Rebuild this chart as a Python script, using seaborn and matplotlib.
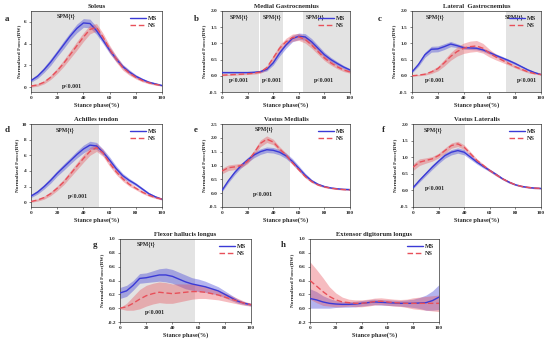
import numpy as np
import pandas as pd
import matplotlib
matplotlib.use("Agg")
import matplotlib.pyplot as plt
import seaborn as sns

sns.set_theme(style="white")
plt.rcParams['font.family'] = ['Liberation Serif', 'DejaVu Serif']

X = [0, 5, 10, 15, 20, 25, 30, 35, 40, 45, 50, 55, 60, 65, 70, 75, 80, 85, 90, 95, 100]

# a Soleus
sol_ms = [0.6, 1.0, 1.6, 2.3, 3.1, 3.9, 4.7, 5.4, 5.9, 5.85, 5.2, 4.3, 3.4, 2.6, 1.9, 1.4, 1.0, 0.7, 0.45, 0.3, 0.15]
sol_ms_sd = [0.15, 0.2, 0.25, 0.3, 0.3, 0.35, 0.35, 0.4, 0.4, 0.4, 0.35, 0.3, 0.3, 0.25, 0.2, 0.2, 0.15, 0.12, 0.1, 0.08, 0.06]
sol_ns = [0.1, 0.2, 0.45, 0.9, 1.5, 2.2, 3.0, 3.8, 4.6, 5.3, 5.5, 4.6, 3.5, 2.6, 1.8, 1.3, 0.9, 0.6, 0.4, 0.25, 0.15]
sol_ns_sd = [0.1, 0.12, 0.15, 0.2, 0.25, 0.3, 0.35, 0.4, 0.4, 0.4, 0.35, 0.35, 0.35, 0.3, 0.25, 0.2, 0.15, 0.12, 0.1, 0.08, 0.06]
# b Medial Gastrocnemius
mg_ms = [0.1, 0.1, 0.1, 0.1, 0.1, 0.11, 0.13, 0.2, 0.4, 0.7, 0.95, 1.15, 1.22, 1.2, 1.05, 0.85, 0.65, 0.5, 0.38, 0.27, 0.18]
mg_ms_sd = [0.02, 0.02, 0.02, 0.02, 0.02, 0.02, 0.03, 0.05, 0.07, 0.09, 0.1, 0.1, 0.1, 0.1, 0.1, 0.09, 0.08, 0.07, 0.06, 0.05, 0.04]
mg_ns = [0.02, 0.03, 0.04, 0.05, 0.06, 0.08, 0.12, 0.25, 0.55, 0.85, 1.05, 1.18, 1.2, 1.12, 0.95, 0.75, 0.55, 0.4, 0.28, 0.18, 0.12]
mg_ns_sd = [0.02, 0.02, 0.02, 0.02, 0.02, 0.03, 0.04, 0.06, 0.08, 0.1, 0.11, 0.11, 0.11, 0.11, 0.1, 0.09, 0.08, 0.07, 0.06, 0.05, 0.04]
# c Lateral Gastrocnemius
lg_ms = [0.12, 0.35, 0.65, 0.82, 0.83, 0.9, 0.98, 0.93, 0.87, 0.86, 0.85, 0.8, 0.72, 0.63, 0.55, 0.47, 0.38, 0.28, 0.18, 0.1, 0.04]
lg_ms_sd = [0.03, 0.06, 0.08, 0.09, 0.09, 0.09, 0.08, 0.06, 0.05, 0.05, 0.05, 0.05, 0.05, 0.05, 0.05, 0.04, 0.04, 0.03, 0.03, 0.02, 0.02]
lg_ns = [0.0, 0.02, 0.05, 0.12, 0.22, 0.4, 0.6, 0.75, 0.85, 0.9, 0.92, 0.85, 0.7, 0.58, 0.48, 0.38, 0.28, 0.2, 0.12, 0.07, 0.04]
lg_ns_sd = [0.01, 0.02, 0.03, 0.05, 0.07, 0.1, 0.12, 0.14, 0.16, 0.17, 0.17, 0.15, 0.12, 0.09, 0.07, 0.05, 0.04, 0.04, 0.03, 0.02, 0.02]
# d Achilles tendon
at_ms = [0.8, 1.3, 2.0, 2.8, 3.7, 4.5, 5.3, 6.1, 6.8, 7.3, 7.2, 6.4, 5.4, 4.3, 3.4, 2.8, 2.3, 1.7, 1.1, 0.7, 0.4]
at_ms_sd = [0.2, 0.25, 0.3, 0.35, 0.35, 0.4, 0.4, 0.45, 0.5, 0.5, 0.45, 0.4, 0.4, 0.35, 0.3, 0.25, 0.2, 0.18, 0.15, 0.12, 0.1]
at_ns = [0.1, 0.3, 0.6, 1.1, 1.8, 2.6, 3.6, 4.6, 5.6, 6.5, 7.0, 6.3, 5.0, 3.9, 3.0, 2.3, 1.8, 1.3, 0.9, 0.6, 0.4]
at_ns_sd = [0.1, 0.15, 0.2, 0.25, 0.3, 0.35, 0.4, 0.45, 0.5, 0.5, 0.5, 0.45, 0.4, 0.35, 0.3, 0.25, 0.2, 0.18, 0.15, 0.12, 0.1]
# e Vastus Medialis
vm_ms = [0.1, 0.45, 0.75, 1.0, 1.2, 1.38, 1.5, 1.57, 1.55, 1.48, 1.35, 1.15, 0.9, 0.65, 0.45, 0.32, 0.24, 0.19, 0.16, 0.14, 0.13]
vm_ms_sd = [0.05, 0.07, 0.08, 0.08, 0.09, 0.1, 0.1, 0.1, 0.1, 0.1, 0.1, 0.1, 0.09, 0.07, 0.05, 0.04, 0.03, 0.02, 0.02, 0.02, 0.02]
vm_ns = [0.8, 0.92, 0.95, 1.0, 1.15, 1.45, 1.8, 1.95, 1.85, 1.6, 1.38, 1.1, 0.85, 0.6, 0.42, 0.3, 0.23, 0.18, 0.15, 0.13, 0.12]
vm_ns_sd = [0.1, 0.1, 0.1, 0.08, 0.08, 0.1, 0.12, 0.12, 0.1, 0.08, 0.07, 0.06, 0.06, 0.05, 0.04, 0.03, 0.03, 0.02, 0.02, 0.02, 0.02]
# f Vastus Lateralis
vl_ms = [0.08, 0.3, 0.5, 0.7, 0.88, 1.05, 1.15, 1.2, 1.15, 1.0, 0.85, 0.72, 0.6, 0.48, 0.35, 0.25, 0.17, 0.12, 0.09, 0.07, 0.06]
vl_ms_sd = [0.03, 0.05, 0.06, 0.07, 0.07, 0.08, 0.08, 0.08, 0.08, 0.07, 0.06, 0.05, 0.04, 0.04, 0.03, 0.03, 0.02, 0.02, 0.02, 0.02, 0.02]
vl_ns = [0.7, 0.85, 0.9, 0.95, 1.05, 1.2, 1.35, 1.4, 1.3, 1.1, 0.9, 0.75, 0.6, 0.47, 0.35, 0.25, 0.17, 0.12, 0.09, 0.07, 0.06]
vl_ns_sd = [0.1, 0.1, 0.08, 0.07, 0.07, 0.08, 0.08, 0.08, 0.07, 0.06, 0.05, 0.04, 0.04, 0.04, 0.03, 0.03, 0.02, 0.02, 0.02, 0.02, 0.02]
# g Flexor hallucis longus
fhl_ms = [0.22, 0.25, 0.33, 0.43, 0.44, 0.46, 0.48, 0.48, 0.46, 0.42, 0.38, 0.35, 0.33, 0.31, 0.28, 0.25, 0.2, 0.15, 0.1, 0.07, 0.05]
fhl_ms_sd = [0.08, 0.08, 0.07, 0.07, 0.07, 0.08, 0.09, 0.1, 0.1, 0.1, 0.1, 0.09, 0.09, 0.08, 0.07, 0.06, 0.05, 0.04, 0.03, 0.02, 0.02]
fhl_ns = [0.0, 0.02, 0.07, 0.13, 0.18, 0.21, 0.23, 0.22, 0.21, 0.22, 0.23, 0.24, 0.24, 0.23, 0.21, 0.19, 0.16, 0.13, 0.1, 0.07, 0.05]
fhl_ns_sd = [0.01, 0.05, 0.1, 0.14, 0.15, 0.15, 0.15, 0.15, 0.14, 0.13, 0.12, 0.11, 0.1, 0.09, 0.08, 0.07, 0.06, 0.05, 0.04, 0.03, 0.02]
# h Extensor digitorum longus
edl_ms = [0.14, 0.12, 0.09, 0.07, 0.06, 0.055, 0.055, 0.06, 0.07, 0.08, 0.09, 0.085, 0.08, 0.075, 0.07, 0.07, 0.07, 0.075, 0.08, 0.11, 0.16]
edl_ms_sd = [0.14, 0.12, 0.09, 0.07, 0.05, 0.04, 0.04, 0.04, 0.04, 0.04, 0.04, 0.04, 0.04, 0.04, 0.04, 0.05, 0.06, 0.08, 0.11, 0.14, 0.18]
edl_ns = [0.4, 0.32, 0.24, 0.17, 0.12, 0.09, 0.08, 0.07, 0.07, 0.08, 0.095, 0.1, 0.09, 0.08, 0.075, 0.07, 0.07, 0.07, 0.07, 0.07, 0.07]
edl_ns_sd = [0.27, 0.24, 0.2, 0.14, 0.1, 0.07, 0.05, 0.05, 0.05, 0.05, 0.05, 0.05, 0.05, 0.05, 0.05, 0.06, 0.08, 0.09, 0.1, 0.11, 0.12]

MS_C = "#3a3ad6"
NS_C = "#e8505a"

panels = [
    dict(letter="a", title="Soleus", d=(sol_ms, sol_ms_sd, sol_ns, sol_ns_sd), ylim=(-0.45, 7.0), yt=[0, 2, 4, 6],
         spm=[(0, 53)], spm_txt=[(27, 6.8)], p_txt=[(31, 0.05)], pos=(31, 162, 11, 92), lpos=(7, 19)),
    dict(letter="b", title="Medial Gastrocnemius", d=(mg_ms, mg_ms_sd, mg_ns, mg_ns_sd), ylim=(-0.5, 2.0), yt=[-0.5, 0.0, 0.5, 1.0, 1.5, 2.0],
         spm=[(0, 29), (30, 48), (63, 100)], spm_txt=[(13, 1.9), (39, 1.9), (73, 1.9)], p_txt=[(13, -0.15), (39, -0.15), (80, -0.15)],
         pos=(222, 350, 11, 92), lpos=(196, 19)),
    dict(letter="c", title="Lateral  Gastrocnemius", d=(lg_ms, lg_ms_sd, lg_ns, lg_ns_sd), ylim=(-0.5, 2.0), yt=[-0.5, 0.0, 0.5, 1.0, 1.5, 2.0],
         spm=[(0, 40), (73, 100)], spm_txt=[(18, 1.9), (79, 1.9)], p_txt=[(18, -0.15), (89, -0.15)],
         pos=(412, 541, 11, 92), lpos=(380, 19)),
    dict(letter="d", title="Achilles tendon", d=(at_ms, at_ms_sd, at_ns, at_ns_sd), ylim=(-0.6, 10.0), yt=[0, 2, 4, 6, 8, 10],
         spm=[(0, 52)], spm_txt=[(26, 9.6)], p_txt=[(36, 0.8)], pos=(31, 162, 124, 207), lpos=(7, 130)),
    dict(letter="e", title="Vastus Medialis", d=(vm_ms, vm_ms_sd, vm_ns, vm_ns_sd), ylim=(-0.5, 2.5), yt=[-0.5, 0.0, 0.5, 1.0, 1.5, 2.0, 2.5],
         spm=[(0, 53)], spm_txt=[(33, 2.4)], p_txt=[(32, -0.05)], pos=(222, 350, 124, 207), lpos=(196, 130)),
    dict(letter="f", title="Vastus Lateralis", d=(vl_ms, vl_ms_sd, vl_ns, vl_ns_sd), ylim=(-0.5, 2.0), yt=[-0.5, 0.0, 0.5, 1.0, 1.5, 2.0],
         spm=[(0, 41)], spm_txt=[(16, 1.9)], p_txt=[(17, 0.05)], pos=(413, 541, 124, 207), lpos=(383, 130)),
    dict(letter="g", title="Flexor hallucis longus", d=(fhl_ms, fhl_ms_sd, fhl_ns, fhl_ns_sd), ylim=(-0.2, 1.0), yt=[-0.2, 0.0, 0.2, 0.4, 0.6, 0.8, 1.0],
         spm=[(0, 57)], spm_txt=[(20, 0.96)], p_txt=[(27, -0.06)], pos=(120, 251, 239, 322), lpos=(95, 245)),
    dict(letter="h", title="Extensor digitorum longus", d=(edl_ms, edl_ms_sd, edl_ns, edl_ns_sd), ylim=(-0.2, 1.0), yt=[-0.2, 0.0, 0.2, 0.4, 0.6, 0.8, 1.0],
         spm=[], spm_txt=[], p_txt=[], pos=(310, 439, 239, 322), lpos=(283, 245)),
]
XT = [0, 20, 40, 60, 80, 100]

W, H = 550, 342
fig = plt.figure(figsize=(5.5, 3.42), dpi=100)

for p in panels:
    l, r, t, b = p["pos"]
    ax = fig.add_axes([l / W, 1 - b / H, (r - l) / W, (b - t) / H])
    ms, ms_sd, ns, ns_sd = [np.array(v, dtype=float) for v in p["d"]]
    for (s, e) in p["spm"]:
        ax.axvspan(s, e, color="#e3e3e3", lw=0, zorder=0)
    ax.fill_between(X, ms - ms_sd, ms + ms_sd, color=MS_C, alpha=0.38, lw=0, zorder=1)
    ax.fill_between(X, ns - ns_sd, ns + ns_sd, color=NS_C, alpha=0.38, lw=0, zorder=1)
    df = pd.DataFrame({"x": X, "ms": ms, "ns": ns})
    sns.lineplot(data=df, x="x", y="ms", ax=ax, color=MS_C, lw=1.0, label="MS", zorder=3)
    sns.lineplot(data=df, x="x", y="ns", ax=ax, color=NS_C, lw=1.0, label="NS", zorder=3, linestyle=(0, (4, 2)))
    ax.set_xlim(0, 100)
    ax.set_ylim(*p["ylim"])
    ax.set_xticks(XT)
    ax.set_xticklabels([str(v) for v in XT])
    ax.set_yticks(p["yt"])
    ax.set_yticklabels([("%g" % v) if isinstance(v, int) else ("%.1f" % v) for v in p["yt"]])
    ax.tick_params(axis="both", labelsize=3.8, length=1.5, width=0.4, pad=1.5, direction="out",
                   bottom=True, left=True)
    for lab in ax.get_xticklabels() + ax.get_yticklabels():
        lab.set_fontweight("bold")
    for sp in ax.spines.values():
        sp.set_linewidth(0.5)
        sp.set_color("#333333")
    ax.set_xlabel("Stance phase(%)", fontsize=4.5, fontweight="bold", labelpad=1.5)
    ax.set_ylabel("Normalized Force(BW)", fontsize=3.8, fontweight="bold", labelpad=2)
    ax.set_title(p["title"], fontsize=4.8, fontweight="bold", pad=2)
    for (x, y) in p["spm_txt"]:
        ax.text(x, y, "SPM{t}", fontsize=4.2, fontweight="bold", ha="center", va="top", zorder=4)
    for (x, y) in p["p_txt"]:
        ax.text(x, y, "p<0.001", fontsize=4.2, fontweight="bold", ha="center", va="center", zorder=4)
    leg = ax.legend(loc="upper right", fontsize=4.5, frameon=False, handlelength=2.6,
                    borderaxespad=0.3, labelspacing=0.3, handletextpad=0.4)
    for txt in leg.get_texts():
        txt.set_fontweight("bold")
    lx, ly = p["lpos"]
    fig.text(lx / W, 1 - ly / H, p["letter"], fontsize=6.5, fontweight="bold", ha="center", va="center")

fig.savefig("out.png", dpi=100)
